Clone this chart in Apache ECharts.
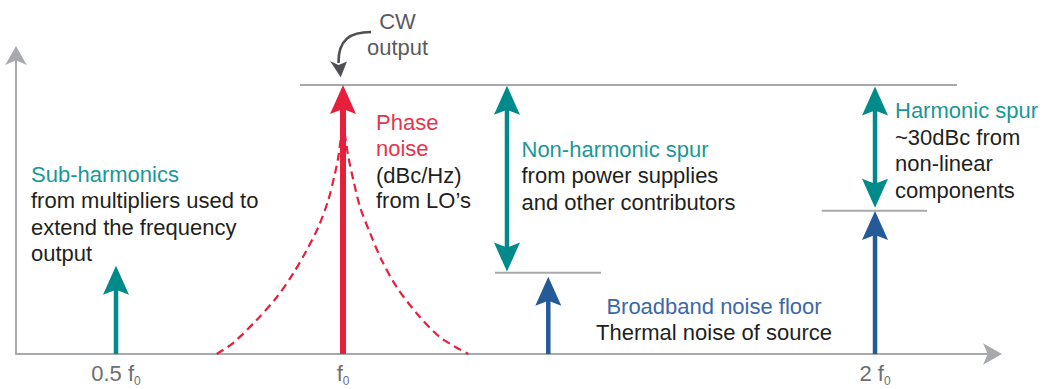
<!DOCTYPE html>
<html>
<head>
<meta charset="utf-8">
<script src="https://cdn.jsdelivr.net/npm/echarts@6/dist/echarts.min.js"></script>
<style>
html,body{margin:0;padding:0;background:#ffffff;}
#chart{width:1047px;height:389px;}
</style>
</head>
<body>
<div id="chart"></div>
<script>
// ---------------- data (x: schematic frequency position 0-100, y: level in dBc) ----------------
const tickValues = [10.24, 33.49, 87.97];
const tickLabels = ['0.5 f', 'f', '2 f'];
const tickSubscripts = ['0', '0', '0'];

// single-headed arrows rising from the axis
const arrowNames = ['Sub-harmonic', 'CW output', 'Broadband noise floor', 'Second harmonic'];
const arrowX = [10.24, 33.49, 54.51, 87.97];
const arrowLevel = [-43.0, 0, -45.6, -30.0];

// double-headed span arrows
const spanNames = ['Non-harmonic spur', 'Harmonic spur'];
const spanX = [50.28, 87.97];
const spanTop = [-0.2, -0.4];
const spanBottom = [-44.4, -29.2];

// horizontal reference levels
const refNames = ['Carrier level', 'Noise floor level', 'Harmonic level'];
const refLevel = [0, -44.65, -29.9];
const refStart = [29.08, 49.05, 82.51];
const refEnd = [96.36, 59.91, 93.29];

// phase noise skirt (dashed)
const phaseNoiseX = [20.55, 22.22, 24.65, 26.70, 28.40, 29.77, 30.96, 31.98, 32.67, 33.01, 33.49,
                     34.03, 34.54, 35.23, 36.25, 37.45, 38.99, 41.03, 43.42, 46.32];
const phaseNoiseY = [-64.0, -61.4, -55.9, -50.5, -44.8, -39.3, -33.8, -27.4, -21.0, -17.1, -10.2,
                     -17.1, -22.6, -29.0, -35.2, -41.7, -48.1, -54.3, -60.0, -64.0];

// ---------------- styles ----------------
const Y_MIN = -64, Y_MAX = 7;
const C = {
  teal: '#008a8a', red: '#e61f3c', blue: '#245a97', axis: '#a7a9ac', pointer: '#505054',
  tealText: '#1a9897', redText: '#e8334d', blueText: '#3b68a6', black: '#231f20', gray: '#5a5b5e', tick: '#6d6e71'
};
const arrowColorKeys = ['teal', 'red', 'blue', 'blue'];
const FONT = '"Liberation Sans", Arial, Helvetica, sans-serif';

function head(tx, ty, dir, color) { // dir = -1 points up, +1 points down
  const L = 29, W = 13, N = 5;
  return {
    type: 'polygon',
    shape: { points: [[tx, ty], [tx - W, ty - dir * L], [tx, ty - dir * (L - N)], [tx + W, ty - dir * L]] },
    style: { fill: color }
  };
}

function txt(x, y, text, color, extra) {
  return {
    type: 'text', x: x, y: y, silent: true, z: 10,
    style: Object.assign({
      text: text, fill: color, fontSize: 22, fontFamily: FONT, lineHeight: 26.5,
      align: 'left', textAlign: 'left', verticalAlign: 'top', textVerticalAlign: 'top'
    }, extra || {})
  };
}

const chart = echarts.init(document.getElementById('chart'), null, { renderer: 'svg' });

const option = {
  animation: false,
  backgroundColor: '#ffffff',
  grid: { left: 16, right: 54.5, top: 55.5, bottom: 35, containLabel: false, outerBoundsMode: 'none' },
  xAxis: {
    type: 'value', min: 0, max: 100,
    axisLine: { onZero: false, symbol: ['none', 'arrow'], symbolSize: [16, 19], symbolOffset: [0, 9.5], lineStyle: { color: C.axis, width: 2 } },
    axisTick: { show: false },
    splitLine: { show: false },
    axisLabel: {
      customValues: tickValues,
      margin: 8,
      formatter: function (v) {
        let best = 0;
        tickValues.forEach(function (t, i) { if (Math.abs(t - v) < Math.abs(tickValues[best] - v)) best = i; });
        return '{a|' + tickLabels[best] + '}{s|' + tickSubscripts[best] + '}';
      },
      rich: {
        a: { fontSize: 22, fontFamily: FONT, color: C.tick, lineHeight: 24, verticalAlign: 'top' },
        s: { fontSize: 12, fontFamily: FONT, color: C.tick, height: 10, lineHeight: 10, verticalAlign: 'bottom' }
      }
    }
  },
  yAxis: {
    type: 'value', min: Y_MIN, max: Y_MAX,
    axisLine: { show: true, onZero: false, symbol: ['none', 'arrow'], symbolSize: [16, 19], symbolOffset: [0, 9.5], lineStyle: { color: C.axis, width: 2 } },
    axisTick: { show: false },
    axisLabel: { show: false },
    splitLine: { show: false }
  },
  series: [
    {
      name: 'Reference levels', type: 'custom', z: 1, silent: true,
      encode: { x: [0, 1], y: 2 },
      data: refLevel.map(function (l, i) { return [refStart[i], refEnd[i], l]; }),
      renderItem: function (params, api) {
        const a = api.coord([api.value(0), api.value(2)]);
        const b = api.coord([api.value(1), api.value(2)]);
        return { type: 'line', shape: { x1: a[0], y1: a[1], x2: b[0], y2: b[1] }, style: { stroke: C.axis, lineWidth: 2 } };
      }
    },
    {
      name: 'Phase noise', type: 'line', z: 2, silent: true,
      data: phaseNoiseX.map(function (x, i) { return [x, phaseNoiseY[i]]; }),
      showSymbol: false, symbol: 'none', smooth: 0.3,
      lineStyle: { color: C.red, width: 2.2, type: [8, 5] }
    },
    {
      name: 'Signals', type: 'custom', z: 3, silent: true,
      encode: { x: 0, y: 1 },
      data: arrowX.map(function (x, i) { return [x, arrowLevel[i], i]; }),
      renderItem: function (params, api) {
        const i = api.value(2);
        const tip = api.coord([api.value(0), api.value(1)]);
        const base = api.coord([api.value(0), Y_MIN]);
        const col = C[arrowColorKeys[i]];
        const w = i === 1 ? 6 : 4.5;
        return {
          type: 'group',
          children: [
            { type: 'line', shape: { x1: tip[0], y1: base[1], x2: tip[0], y2: tip[1] + 20 }, style: { stroke: col, lineWidth: w } },
            head(tip[0], tip[1], -1, col)
          ]
        };
      }
    },
    {
      name: 'Spans', type: 'custom', z: 3, silent: true,
      encode: { x: 0, y: [1, 2] },
      data: spanX.map(function (x, i) { return [x, spanTop[i], spanBottom[i]]; }),
      renderItem: function (params, api) {
        const t = api.coord([api.value(0), api.value(1)]);
        const b = api.coord([api.value(0), api.value(2)]);
        return {
          type: 'group',
          children: [
            { type: 'line', shape: { x1: t[0], y1: t[1] + 20, x2: b[0], y2: b[1] - 20 }, style: { stroke: C.teal, lineWidth: 4.5 } },
            head(t[0], t[1], -1, C.teal),
            head(b[0], b[1], 1, C.teal)
          ]
        };
      }
    },
    {
      name: 'CW pointer', type: 'custom', z: 3, silent: true,
      encode: { x: 0, y: 1 },
      data: [[arrowX[1], arrowLevel[1]]],
      renderItem: function (params, api) {
        const p = api.coord([api.value(0), api.value(1)]);
        const x = p[0], y = p[1];
        return {
          type: 'group',
          children: [
            { type: 'bezierCurve', shape: { x1: x + 28, y1: y - 53, cpx1: x + 8, cpy1: y - 53, cpx2: x - 5, cpy2: y - 46, x2: x - 4.5, y2: y - 22 },
              style: { stroke: C.pointer, fill: null, lineWidth: 2.6 } },
            { type: 'polygon', shape: { points: [[x - 2.3, y - 7.7], [x - 13, y - 24], [x - 4.5, y - 20], [x + 4, y - 23.5]] }, style: { fill: C.pointer } }
          ]
        };
      }
    }
  ],
  graphic: [
    txt(397.5, 8.7, 'CW\noutput', C.gray, { align: 'center', textAlign: 'center', lineHeight: 25.7 }),
    txt(31, 160.85, 'Sub-harmonics', C.tealText),
    txt(31, 187.35, 'from multipliers used to\nextend the frequency\noutput', C.black),
    txt(376, 109.6, 'Phase\nnoise', C.redText, { lineHeight: 26 }),
    txt(376, 163.2, '(dBc/Hz)\nfrom LO\u2019s', C.black, { lineHeight: 25 }),
    txt(521.5, 135.85, 'Non-harmonic spur', C.tealText),
    txt(521.5, 162.35, 'from power supplies\nand other contributors', C.black),
    txt(895, 96.85, 'Harmonic spur', C.tealText),
    txt(895, 124.15, '~30dBc from\nnon-linear\ncomponents', C.black),
    txt(714, 293.15, 'Broadband noise floor', C.blueText, { align: 'center', textAlign: 'center' }),
    txt(714, 319.15, 'Thermal noise of source', C.black, { align: 'center', textAlign: 'center' })
  ]
};

chart.setOption(option);
</script>
</body>
</html>
